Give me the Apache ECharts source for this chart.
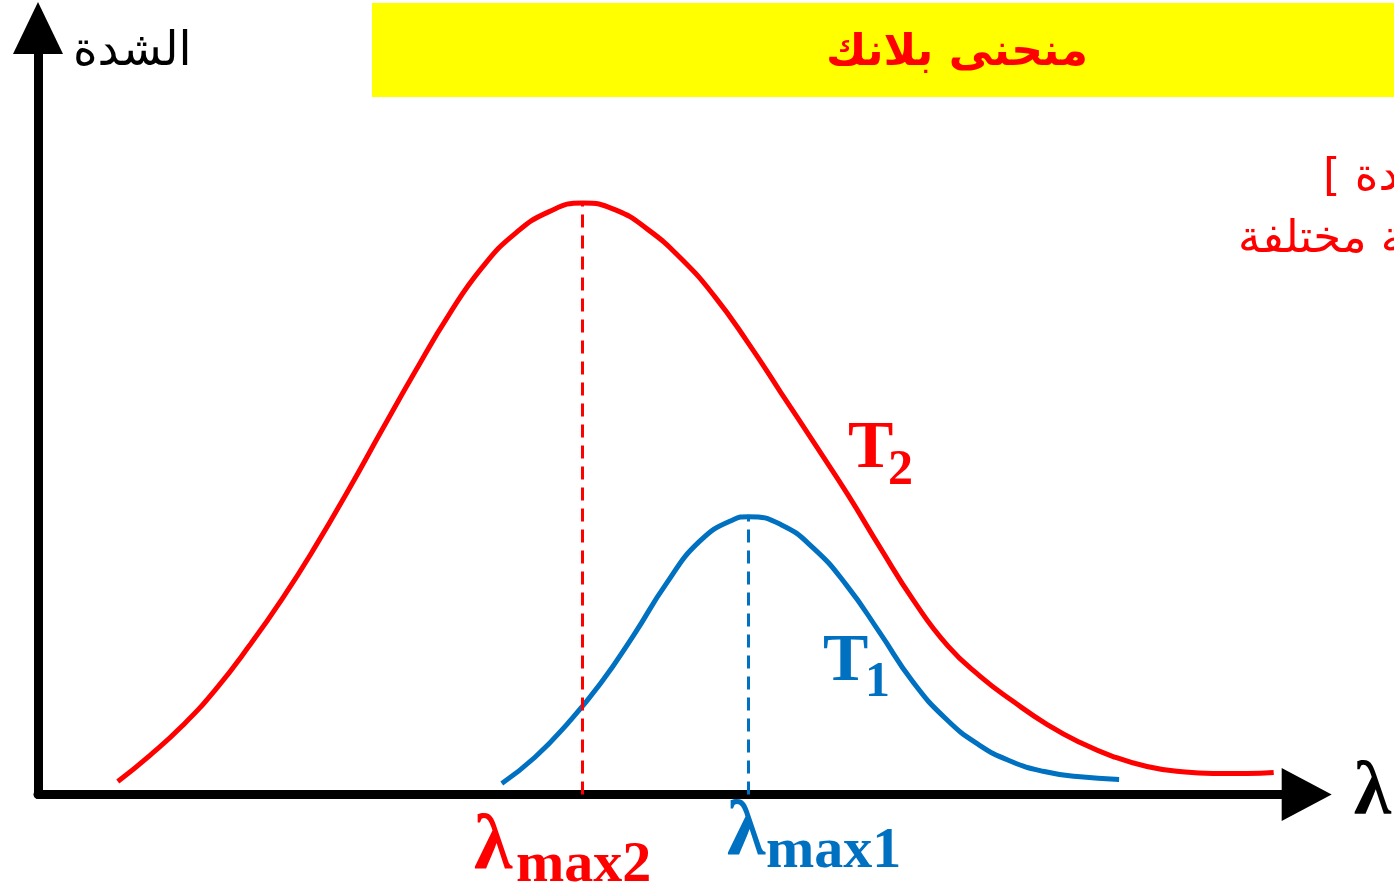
<!DOCTYPE html>
<html>
<head>
<meta charset="utf-8">
<script src="https://cdn.jsdelivr.net/npm/echarts@6/dist/echarts.min.js"></script>
<style>
  html, body { margin: 0; padding: 0; background: #ffffff; }
  #chart { width: 1394px; height: 889px; }
</style>
</head>
<body>
<div id="chart"></div>
<script>
// Planck curves: intensity against wavelength for two temperatures (arbitrary units)
const wavelengthT2 = [8.0, 11.2, 14.5, 17.8, 21.2, 24.5, 27.8, 31.2, 34.5, 37.8, 41.2, 44.5, 47.8, 51.2, 54.6, 57.9, 61.2, 64.5, 67.8, 71.2, 74.5, 77.8, 81.2, 84.5, 87.8, 91.2, 94.5, 97.8, 101.2, 104.5, 107.8, 111.2, 114.5, 117.8, 121.2, 123.9];
const intensityT2  = [1.3, 3.9, 6.9, 10.5, 14.9, 19.6, 24.8, 30.6, 36.5, 42.3, 48.0, 52.7, 56.1, 58.3, 59.2, 58.5, 56.5, 53.6, 49.9, 45.2, 40.2, 35.2, 30.0, 24.6, 19.4, 14.9, 11.8, 9.3, 7.0, 5.2, 3.8, 2.8, 2.3, 2.1, 2.1, 2.2];

const wavelengthT1 = [46.5, 49.8, 53.1, 56.4, 59.7, 63.0, 66.3, 69.7, 71.2, 74.5, 77.8, 81.1, 84.4, 87.7, 91.0, 94.3, 97.6, 100.9, 104.2, 108.4];
const intensityT1  = [1.1, 3.7, 7.1, 11.1, 15.9, 21.1, 25.3, 27.5, 27.8, 27.0, 24.6, 20.9, 16.2, 11.3, 7.6, 5.0, 3.3, 2.3, 1.8, 1.5];

const titleText = 'منحنى بلانك';
const yAxisName = 'الشدة';
const xAxisName = 'λ';
const noteLine1 = '[ الشدة';
const noteLine2 = 'حرارية مختلفة';

const RED = '#ff0000';
const BLUE = '#0070c0';
const SERIF = '"Liberation Serif", "DejaVu Serif", serif';
const ARABIC = '"DejaVu Sans", "Noto Sans", sans-serif';

function pairs(xs, ys) { return xs.map((x, i) => [x, ys[i]]); }
function peakOf(xs, ys) {
  let k = 0;
  ys.forEach((v, i) => { if (v > ys[k]) k = i; });
  return [xs[k], ys[k]];
}
const peakT2 = peakOf(wavelengthT2, intensityT2);
const peakT1 = peakOf(wavelengthT1, intensityT1);

function peakLine(peak, color) {
  return {
    silent: true,
    symbol: 'none',
    label: { show: false },
    lineStyle: { color: color, width: 3, type: [13, 8] },
    data: [[{ coord: [peak[0], 0] }, { coord: [peak[0], peak[1]] }]]
  };
}

function txt(x, y, text, size, color, family, weight, align) {
  return {
    type: 'text', x: x, y: y, z: 50,
    style: {
      text: text, fill: color, fontSize: size, fontFamily: family,
      fontWeight: weight || 'normal', align: align || 'left', verticalAlign: 'middle'
    }
  };
}

const chart = echarts.init(document.getElementById('chart'), null, { renderer: 'canvas' });

chart.setOption({
  animation: false,
  backgroundColor: '#ffffff',
  title: {
    text: titleText,
    left: 952,
    top: 49,
    textAlign: 'center',
    textVerticalAlign: 'middle',
    textStyle: { color: RED, fontSize: 44, fontWeight: 'bold', fontFamily: ARABIC }
  },
  grid: { left: 38, right: 106, top: 45, bottom: 94.5, containLabel: false },
  xAxis: {
    type: 'value', min: 0, max: 125,
    name: xAxisName, nameLocation: 'end', nameGap: 69,
    nameTextStyle: { color: '#000', fontSize: 76, fontWeight: 'bold', fontFamily: SERIF, padding: [0, 0, 28, 0] },
    axisLine: { show: true, lineStyle: { color: '#000', width: 9 }, symbol: ['none', 'triangle'], symbolSize: [53, 50], symbolOffset: [0, 22] },
    axisTick: { show: false }, axisLabel: { show: false }, splitLine: { show: false }
  },
  yAxis: {
    type: 'value', min: 0, max: 75,
    name: yAxisName, nameLocation: 'end', nameGap: -8,
    nameTextStyle: { color: '#000', fontSize: 47, fontFamily: ARABIC, align: 'left', verticalAlign: 'middle', padding: [0, 0, 0, 35] },
    axisLine: { show: true, lineStyle: { color: '#000', width: 9 }, symbol: ['none', 'triangle'], symbolSize: [50, 52], symbolOffset: [0, 17] },
    axisTick: { show: false }, axisLabel: { show: false }, splitLine: { show: false }
  },
  series: [
    {
      name: 'T2', type: 'line', smooth: true, symbol: 'none', z: 3,
      lineStyle: { color: RED, width: 5 },
      data: pairs(wavelengthT2, intensityT2),
      markLine: peakLine(peakT2, RED)
    },
    {
      name: 'T1', type: 'line', smooth: true, symbol: 'none', z: 4,
      lineStyle: { color: BLUE, width: 5 },
      data: pairs(wavelengthT1, intensityT1),
      markLine: peakLine(peakT1, BLUE)
    }
  ],
  graphic: [
    { type: 'rect', z: -10, shape: { x: 372, y: 3, width: 1160, height: 94 }, style: { fill: '#ffff00' } },
    txt(1323, 178, noteLine1, 45, RED, ARABIC),
    txt(1238, 240, noteLine2, 45, RED, ARABIC),
    // curve labels
    txt(848, 449, 'T', 68, RED, SERIF, 'bold'),
    txt(888, 471, '2', 50, RED, SERIF, 'bold'),
    txt(823, 662, 'T', 68, BLUE, SERIF, 'bold'),
    txt(865, 683, '1', 50, BLUE, SERIF, 'bold'),
    // peak wavelength labels
    txt(474, 848, 'λ', 78, RED, SERIF, 'bold'),
    txt(516, 866, 'max2', 58, RED, SERIF, 'bold'),
    txt(727, 834, 'λ', 78, BLUE, SERIF, 'bold'),
    txt(766, 852, 'max1', 58, BLUE, SERIF, 'bold')
  ]
});
</script>
</body>
</html>
